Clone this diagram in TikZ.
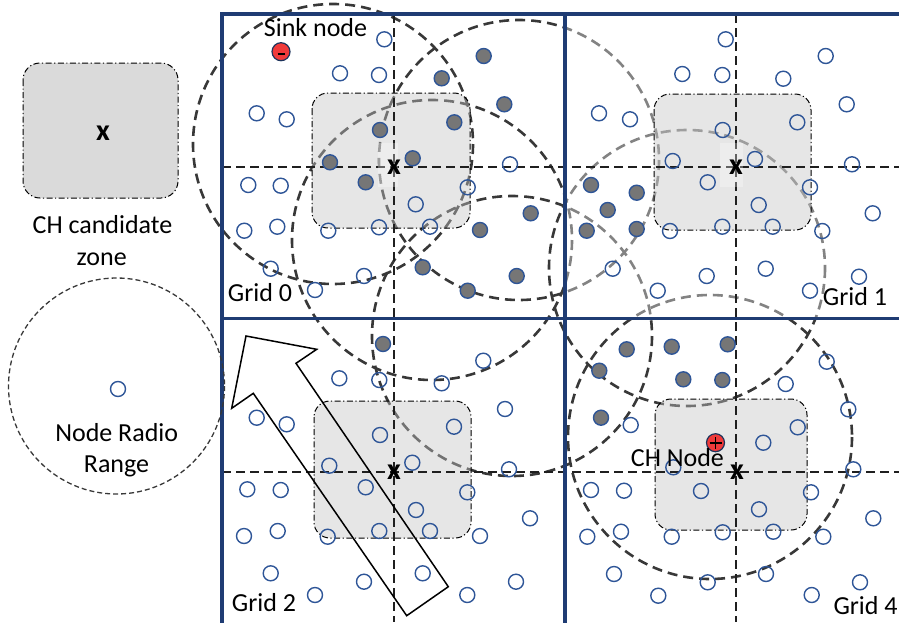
\documentclass[tikz,border=0pt]{standalone}
\usepackage{fontspec}
\setmainfont{Carlito}
\definecolor{framblue}{HTML}{1F3C73}
\definecolor{nodeblue}{HTML}{2E5597}
\definecolor{membergray}{HTML}{767676}
\definecolor{rangegray}{HTML}{383838}
\definecolor{zonegray}{HTML}{C4C4C4}
\definecolor{legzonegray}{HTML}{DADADA}
\definecolor{alertred}{HTML}{F03A3A}
\begin{document}
\begin{tikzpicture}[x=1pt,y=-1pt,
  rangecircle/.style={draw=rangegray, line width=2.6pt, dash pattern=on 10pt off 6pt},
  gridcross/.style={draw=black!88, line width=1.6pt, dash pattern=on 9pt off 5pt},
  chzone/.style={fill=zonegray, fill opacity=0.42, draw=black, line width=1pt,
    dash pattern=on 6pt off 2.5pt on 1.2pt off 2.5pt, rounded corners=16pt},
  sensor/.style={circle, draw=nodeblue, line width=1.4pt, minimum size=15pt, inner sep=0pt},
  member/.style={sensor, fill=membergray},
  special/.style={circle, draw=nodeblue!60!black, line width=1.2pt, fill=alertred,
    minimum size=18pt, inner sep=0pt},
  signmark/.style={draw=black, line width=1.7pt},
  txt/.style={inner sep=0pt, font=\fontsize{26}{30}\selectfont},
  xmark/.style={inner sep=0pt, font=\fontsize{30}{30}\selectfont\bfseries},
  frameline/.style={draw=framblue, line width=3.2pt},
]
\useasboundingbox (0,0) rectangle (899,622);
\clip (0,0) rectangle (899,622);

% radio ranges of the cluster members
\draw[rangecircle] (333,144) circle (140);
\draw[rangecircle] (519,160) circle (140);
\draw[rangecircle] (432,240) circle (140);
\draw[rangecircle] (512,336) circle (140);
\draw[rangecircle] (687,268) circle (138);
\draw[rangecircle] (710,437) circle (142);

% grid 1 is shaded lighter
\fill[white, fill opacity=0.38] (566,16) rectangle (899,317);

% CH candidate zones
\path[chzone] (312,93) rectangle (470,228);
\path[chzone] (654,94) rectangle (811,230);
\path[chzone] (314,401) rectangle (471,538);
\path[chzone] (655,399) rectangle (807,530);

% grid centre lines
\draw[gridcross] (222,167) -- (899,167);
\draw[gridcross] (222,472) -- (899,472);
\draw[gridcross] (394,14) -- (394,622);
\draw[gridcross] (736,14) -- (736,622);

% grid centres
\fill[white, fill opacity=0.3] (378,143) rectangle (398,187);
\fill[white, fill opacity=0.3] (720,143) rectangle (743,187);
\node[xmark] (c0) at (394,167.5) {x};
\node[xmark] (c1) at (736,167.5) {x};
\node[xmark] (c2) at (394,472.5) {x};
\node[xmark] (c4) at (737,472.5) {x};

% ordinary sensor nodes
\foreach \px/\py [count=\i] in {
  384.3/39.3, 340/73.3, 379/75, 256.7/113.3, 286.7/119.3, 510/164.3, 248.3/185,
  280.7/185.7, 467.7/187.3, 415.7/204.3, 244.3/230.7, 277.3/226.7, 328.3/230.7,
  379/227.3, 430/226.7, 270.7/268.7, 364/276, 315/290,
  725.7/39.3, 825.7/56, 682.3/74, 722.3/75, 783.3/78.7, 599/113.3, 630/119.3,
  846.7/104.3, 797.3/122.3, 722.7/130, 672.7/161, 755/159, 852/164.3, 707.7/182.3,
  810/187.3, 758.7/205, 872.7/213.3, 670/231, 722.3/226.7, 772.7/226.7, 822.3/231,
  612.7/268.7, 706.7/276, 765.7/268.7, 859/276.7, 657.7/290.7, 810/290.7,
  483.3/360.7, 339.3/378.3, 379.3/380, 441.7/383.3, 256.7/417.7, 286.7/424.3,
  505/409, 454/426.7, 380/435, 329.3/465.7, 412.3/462.7, 509/469.3, 247.3/489.3,
  280.7/490, 365.7/487.3, 467.3/492.3, 416/510, 530/518.3, 244/536, 277.7/531,
  327.7/536.7, 379.3/531, 430/531, 480/536, 270.7/573.3, 364/581.7, 422.7/573.3,
  516/581.7, 315/595, 467.3/595,
  826.7/361.7, 785.7/384, 848.3/409.3, 630.7/425, 797.7/427.3, 763.3/442.7,
  673.3/467.3, 853.3/469.3, 591/490, 624/490.7, 701/491, 811/492.3, 759/509.3,
  873.3/518.3, 587.3/536.7, 621/531.7, 671.7/536.7, 722.7/532.3, 773.3/531.7,
  823.3/536.7, 614/574, 707.7/582.3, 766/574, 860/582.3, 658.3/595.7, 811.7/595}
  \node[sensor] (s\i) at (\px,\py) {};

% nodes inside a radio range
\foreach \px/\py [count=\i] in {
  483.7/56, 441.7/78.3, 504.3/104.3, 454.3/122.3, 380/130, 330/162.3, 412.7/158.3,
  365.7/182.3, 530.7/213.3, 480/230, 422.7/267.3, 516.7/276, 467.7/290.7,
  591/185, 636.7/192.7, 607.7/210, 586.7/230.7, 636.7/229,
  383/344,
  626.7/349.3, 671.7/346.7, 727.7/344.3, 599.3/370.7, 683.3/379.3, 722.3/380, 601/417.7}
  \node[member] (m\i) at (\px,\py) {};

% sink (minus) and cluster head (plus)
\node[special] (sink) at (281,51.7) {};
\draw[signmark] ([xshift=-3.5pt,yshift=-2pt]sink.center) -- ([xshift=3.5pt,yshift=-2pt]sink.center);
\node[special] (chnode) at (715.5,442.7) {};
\draw[signmark] ([xshift=-6pt]chnode.center) -- ([xshift=6pt]chnode.center);
\draw[signmark] ([yshift=-6pt]chnode.center) -- ([yshift=6pt]chnode.center);

% movement arrow
\draw[line width=1.5pt, line join=miter]
  (246,336) -- (316.7,349.3) -- (296,363.3) -- (448.3,586.7)
  -- (406.7,615.7) -- (253.3,393.3) -- (231.7,408.3) -- cycle;

% grid frame
\draw[frameline] (222,14) rectangle (910,630);
\draw[frameline] (565,14) -- (565,630);
\draw[frameline] (222,318.5) -- (910,318.5);

% labels
\node[txt, anchor=base] (lsink) at (315.5,36) {Sink node};
\node[txt, anchor=base west] (lg0) at (227.7,301.7) {Grid 0};
\node[txt, anchor=base west] (lg1) at (822.7,305) {Grid 1};
\node[txt, anchor=base west] (lg2) at (231.7,611.7) {Grid 2};
\node[txt, anchor=base west] (lg4) at (833.3,614) {Grid 4};
\node[txt, anchor=base west] (lch) at (630.7,466.7) {CH Node};

% legend
\path[fill=legzonegray, draw=black, line width=1pt,
  dash pattern=on 6pt off 2.5pt on 1.2pt off 2.5pt, rounded corners=17pt]
  (23,63) rectangle (178,198);
\node[xmark] (legx) at (103,133) {x};
\node[txt, anchor=base] (legzone1) at (102.5,233.3) {CH candidate};
\node[txt, anchor=base] (legzone2) at (101.7,265) {zone};
\draw[draw=rangegray, line width=1.3pt, dash pattern=on 5pt off 3pt] (116.5,386) circle (108);
\node[sensor] (legnode) at (118,389) {};
\node[txt, anchor=base] (legrange1) at (116.7,441.7) {Node Radio};
\node[txt, anchor=base] (legrange2) at (116.5,472.7) {Range};
\end{tikzpicture}
\end{document}
